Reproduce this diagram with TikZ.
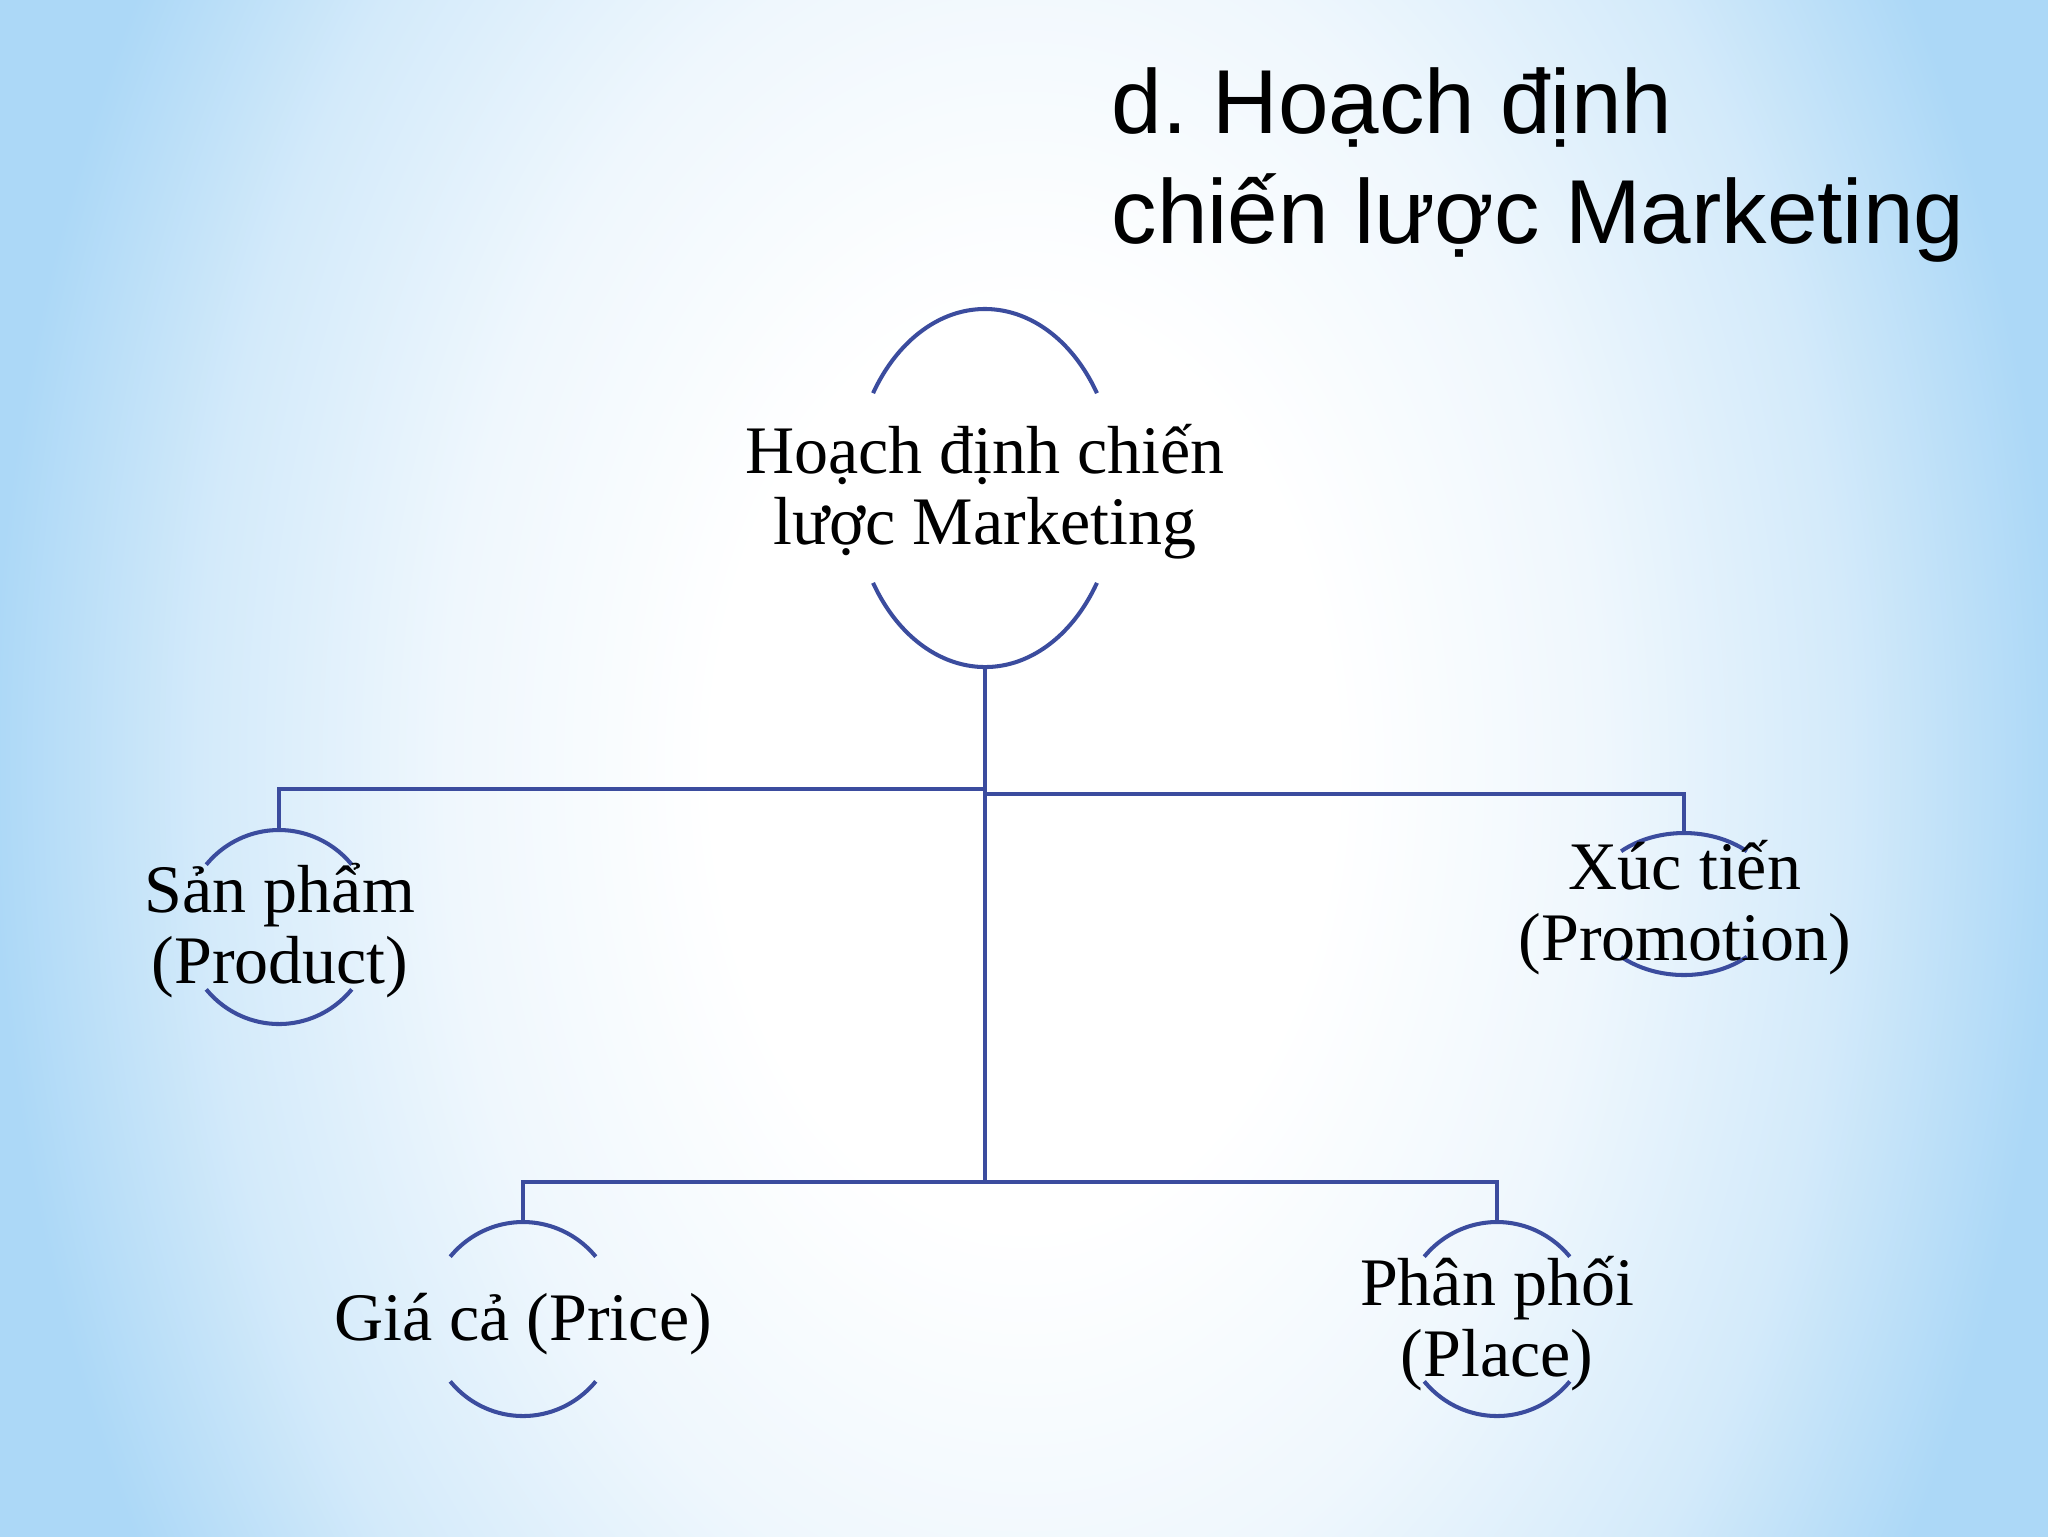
\documentclass[tikz,border=0pt]{standalone}
\usepackage{fontspec}
\setmainfont{Liberation Serif}
\newfontfamily\titlefont{Liberation Sans}
\usetikzlibrary{shapes.geometric,fadings}
\frenchspacing
\definecolor{lineblue}{HTML}{3B4C9E}
\definecolor{bgblue}{HTML}{ACD8F7}
\definecolor{bgmid}{HTML}{D3EAFA}
\definecolor{bglight}{HTML}{EFF7FD}
\pgfdeclareradialshading{bgrad}{\pgfpoint{0bp}{0bp}}{color(0bp)=(white); color(15bp)=(white); color(28bp)=(bglight); color(40bp)=(bgmid); color(50bp)=(bgblue)}
\tikzfading[name=bandfade, top color=transparent!100, middle color=transparent!35, bottom color=transparent!100]
\begin{document}
\begin{tikzpicture}[x=0.1mm, y=-0.1mm,
  arcline/.style={draw=lineblue, line width=1.15pt},
  conn/.style={draw=lineblue, line width=1pt},
  shapebox/.style={ellipse, draw=none, inner sep=0pt, outer sep=0pt},
  lbl/.style={anchor=base, inner sep=0pt, font=\fontsize{19.35pt}{20.2pt}\selectfont},
  ttl/.style={anchor=base west, inner sep=0pt, font=\titlefont\fontsize{25.85pt}{31.3pt}\selectfont}]

\useasboundingbox (0,0) rectangle (2048,1536);
\begin{scope}
  \clip (-2,-2) rectangle (2050,1538);
  \fill[bgblue] (-2,-2) rectangle (2050,1538);
  \begin{scope}[shift={(1024,768)}, xscale=5.85, yscale=8.6]
    \pgflowlevelsynccm
    \pgfuseshading{bgrad}
  \end{scope}
  \fill[white, path fading=bandfade] (0,1040) rectangle (2048,1170);
\end{scope}

% shapes (named)
\node[shapebox, minimum width=26.4mm, minimum height=35.8mm] (top) at (985,488) {};
\node[shapebox, minimum width=19mm, minimum height=19.4mm] (prod) at (279,927) {};
\node[shapebox, minimum width=18.8mm, minimum height=14.2mm] (promo) at (1684,904) {};
\node[shapebox, minimum width=19mm, minimum height=19.4mm] (price) at (523,1319) {};
\node[shapebox, minimum width=19mm, minimum height=19.4mm] (place) at (1497,1319) {};

% arcs of the ovals
\draw[arcline] (top.center) ++(32:13.2mm and 17.9mm) arc[start angle=32, end angle=148, x radius=13.2mm, y radius=17.9mm];
\draw[arcline] (top.center) ++(212:13.2mm and 17.9mm) arc[start angle=212, end angle=328, x radius=13.2mm, y radius=17.9mm];

\draw[arcline] (prod.center) ++(40:9.5mm and 9.7mm) arc[start angle=40, end angle=140, x radius=9.5mm, y radius=9.7mm];
\draw[arcline] (prod.center) ++(220:9.5mm and 9.7mm) arc[start angle=220, end angle=320, x radius=9.5mm, y radius=9.7mm];

\draw[arcline] (promo.center) ++(48:9.4mm and 7.1mm) arc[start angle=48, end angle=132, x radius=9.4mm, y radius=7.1mm];
\draw[arcline] (promo.center) ++(228:9.4mm and 7.1mm) arc[start angle=228, end angle=312, x radius=9.4mm, y radius=7.1mm];

\draw[arcline] (price.center) ++(40:9.5mm and 9.7mm) arc[start angle=40, end angle=140, x radius=9.5mm, y radius=9.7mm];
\draw[arcline] (price.center) ++(220:9.5mm and 9.7mm) arc[start angle=220, end angle=320, x radius=9.5mm, y radius=9.7mm];

\draw[arcline] (place.center) ++(40:9.5mm and 9.7mm) arc[start angle=40, end angle=140, x radius=9.5mm, y radius=9.7mm];
\draw[arcline] (place.center) ++(220:9.5mm and 9.7mm) arc[start angle=220, end angle=320, x radius=9.5mm, y radius=9.7mm];

% connectors
\coordinate (jL) at (985,789);
\coordinate (jR) at (985,794);
\coordinate (jB) at (985,1182);
\draw[conn] (top.south) -- (jB);
\draw[conn] (jL) -| (prod.north);
\draw[conn] (jR) -| (promo.north);
\draw[conn] (jB) -| (price.north);
\draw[conn] (jB) -| (place.north);

% labels
\node[lbl] (toplbl) at (985,473) {\begin{tabular}[t]{@{}c@{}}\smash{Hoạch định chiến}\\\smash{lược Marketing}\end{tabular}};
\node[lbl] (prodlbl) at (280,912) {\begin{tabular}[t]{@{}c@{}}\smash{Sản phẩm}\\\smash{(Product)}\end{tabular}};
\node[lbl] (promolbl) at (1685,889) {\begin{tabular}[t]{@{}c@{}}\smash{Xúc tiến}\\\smash{(Promotion)}\end{tabular}};
\node[lbl] (pricelbl) at (523,1340) {Giá cả (Price)};
\node[lbl] (placelbl) at (1497,1305) {\begin{tabular}[t]{@{}c@{}}\smash{Phân phối}\\\smash{(Place)}\end{tabular}};

% title
\node[ttl] (title) at (1111,133) {\begin{tabular}[t]{@{}l@{}}\smash{d. Hoạch định}\\\smash{chiến lược Marketing}\end{tabular}};
\end{tikzpicture}
\end{document}
